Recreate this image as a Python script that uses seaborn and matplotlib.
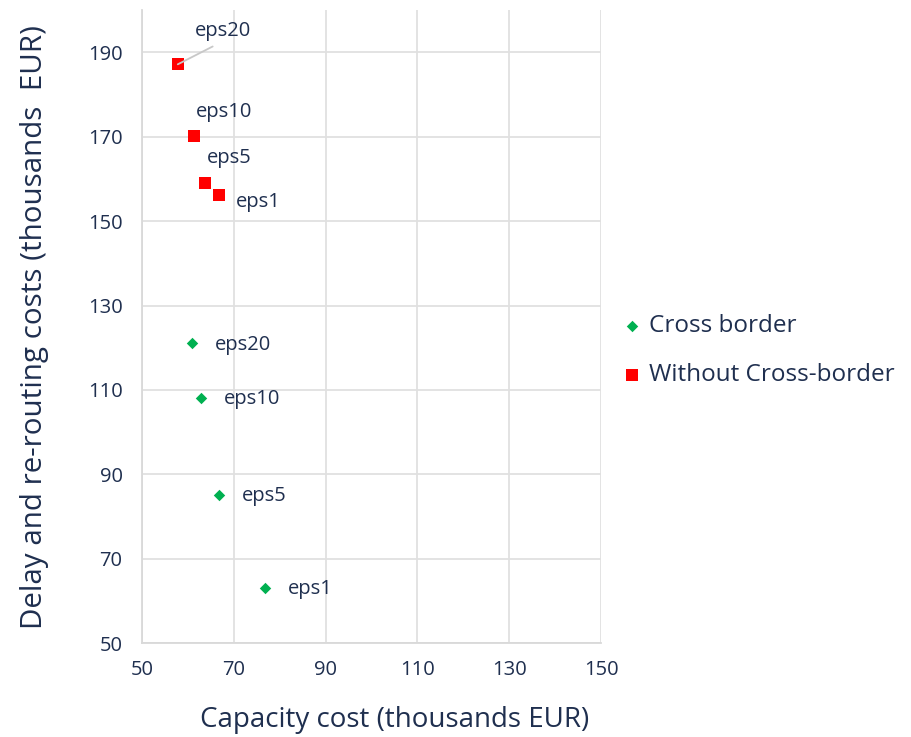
import numpy as np
import pandas as pd
import seaborn as sns
import matplotlib.pyplot as plt

# Data (thousands EUR)
labels = ['eps20', 'eps10', 'eps5', 'eps1']
cross_capacity = [60.9, 62.9, 66.8, 76.8]
cross_delay = [121.1, 108.1, 85.1, 63.0]
nocross_capacity = [57.8, 61.3, 63.7, 66.8]
nocross_delay = [187.2, 170.1, 159.0, 156.2]
series = ['Cross border', 'Without Cross-border']

df = pd.DataFrame({
    'capacity': cross_capacity + nocross_capacity,
    'delay': cross_delay + nocross_delay,
    'label': labels + labels,
    'series': [series[0]] * 4 + [series[1]] * 4,
})

sns.set_theme(style='whitegrid')
plt.rcParams['font.family'] = ['Open Sans', 'DejaVu Sans']
text_color = '#1F2F4F'
grid_color = '#E0E0E0'

fig = plt.figure(figsize=(9.12, 7.37), dpi=100)
ax = fig.add_axes([0.1557, 0.1275, 0.5033, 0.8585])

palette = {series[0]: '#00B050', series[1]: '#FF0000'}
markers = {series[0]: 'D', series[1]: 's'}
sizes = {series[0]: 34, series[1]: 72}

for name in series:
    sub = df[df['series'] == name]
    sns.scatterplot(data=sub, x='capacity', y='delay', color=palette[name],
                    marker=markers[name], s=sizes[name], linewidth=0,
                    label=name, ax=ax, zorder=3)

# label offsets in pixels (dx, dy)
offsets = {
    (series[0], 'eps20'): (51, -2), (series[0], 'eps10'): (51, -1),
    (series[0], 'eps5'): (45, -1), (series[0], 'eps1'): (45, -1),
    (series[1], 'eps20'): (45, 33), (series[1], 'eps10'): (30, 24),
    (series[1], 'eps5'): (24, 25), (series[1], 'eps1'): (39, -7),
}
for _, row in df.iterrows():
    dx, dy = offsets[(row['series'], row['label'])]
    arrow = None
    if row['series'] == series[1] and row['label'] == 'eps20':
        arrow = dict(arrowstyle='-', color='#C8C8C8', lw=1.3,
                     relpos=(0.5, 0.0), shrinkA=3, shrinkB=0)
    ax.annotate(row['label'], (row['capacity'], row['delay']),
                xytext=(dx, dy), textcoords='offset pixels',
                ha='center', va='center', fontsize=14.5, color=text_color,
                arrowprops=arrow)

ax.set_xlim(50, 150)
ax.set_ylim(50, 200)
ax.set_xticks(np.arange(50, 151, 20))
ax.set_yticks(np.arange(50, 191, 20))
ax.grid(True, color=grid_color, lw=1.3)
ax.tick_params(axis='both', labelsize=14.5, colors=text_color, length=0)
ax.tick_params(axis='y', pad=14)
ax.tick_params(axis='x', pad=12)
for side in ['top', 'right']:
    ax.spines[side].set_visible(False)
for side in ['left', 'bottom']:
    ax.spines[side].set_color('#D9D9D9')
    ax.spines[side].set_linewidth(1.3)

ax.set_xlabel('Capacity cost (thousands EUR)', fontsize=20, color=text_color)
ax.xaxis.set_label_coords(0.551, -0.100)
ax.set_ylabel('Delay and re-routing costs (thousands  EUR)', fontsize=21.3,
              color=text_color, labelpad=28)

leg = ax.legend(loc='center left', bbox_to_anchor=(1.046, 0.462), frameon=False,
                fontsize=17.5, borderpad=0, borderaxespad=0, handlelength=0.8,
                handletextpad=0.3, labelspacing=1.05, markerscale=1.0)
for t in leg.get_texts():
    t.set_color(text_color)

fig.savefig('out.png', dpi=100)
